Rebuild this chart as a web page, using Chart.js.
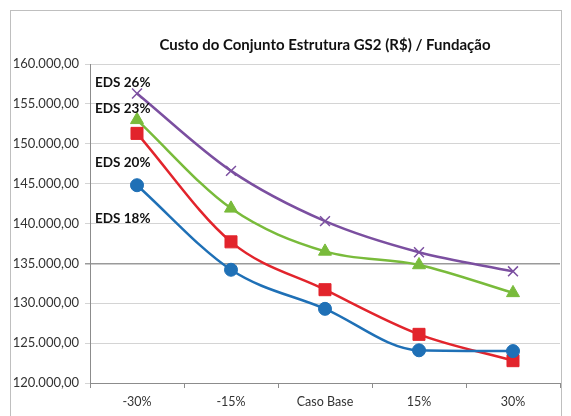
<!DOCTYPE html>
<html>
<head>
<meta charset="utf-8">
<script src="https://cdn.jsdelivr.net/npm/chart.js@4"></script>
<style>
  html, body { margin: 0; padding: 0; background: #fff; }
  #wrap { width: 571px; height: 416px; }
</style>
</head>
<body>
<div id="wrap"><canvas id="custoChart" width="571" height="416"></canvas></div>
<script>
// categories and values
const categories = ['-30%', '-15%', 'Caso Base', '15%', '30%'];
const eds18 = [144800, 134200, 129300, 124100, 124000];
const eds20 = [151300, 137700, 131700, 126100, 122800];
const eds23 = [153000, 141900, 136500, 134800, 131300];
const eds26 = [156300, 146600, 140300, 136400, 134000];
const seriesNames = ['EDS 18%', 'EDS 20%', 'EDS 23%', 'EDS 26%'];
// value (y) where each series name is written, near the first category
const nameLevels = [140550, 147570, 154460, 157720];

const colors = ['#1f70b6', '#e2242c', '#79bb3b', '#7b4fa0'];
const markers = ['circle', 'rect', 'triangle', 'crossRot'];
const markerSizes = [6.5, 8.5, 7.5, 7];

function fmt(v) {
    // 160000 -> 160.000,00
    const s = Math.round(v).toString().replace(/\B(?=(\d{3})+(?!\d))/g, '.');
    return s + ',00';
}

// white background + outer frame
const framePlugin = {
    id: 'frame',
    beforeDraw(chart) {
        const ctx = chart.ctx;
        ctx.save();
        ctx.fillStyle = '#fff';
        ctx.fillRect(0, 0, chart.width, chart.height);
        ctx.strokeStyle = '#bfbfbf';
        ctx.lineWidth = 1;
        ctx.strokeRect(10.5, 10.5, 551, 420);
        ctx.restore();
    }
};

// series names written inside the plot
const namesPlugin = {
    id: 'names',
    afterDatasetsDraw(chart) {
        const ctx = chart.ctx;
        const y = chart.scales.y;
        ctx.save();
        ctx.font = 'bold 13.5px Lato';
        ctx.fillStyle = '#111';
        ctx.textAlign = 'left';
        ctx.textBaseline = 'middle';
        seriesNames.forEach((n, i) => {
            ctx.fillText(n, chart.chartArea.left + 5, y.getPixelForValue(nameLevels[i]));
        });
        ctx.restore();
    }
};

const seriesData = [eds18, eds20, eds23, eds26];

new Chart(document.getElementById('custoChart'), {
    type: 'line',
    data: {
        labels: categories,
        datasets: seriesData.map((d, i) => ({
            label: seriesNames[i],
            data: d,
            borderColor: colors[i],
            backgroundColor: colors[i],
            borderWidth: 2.5,
            pointStyle: markers[i],
            pointRadius: markerSizes[i],
            pointBorderWidth: i === 3 ? 1.5 : 1,
            cubicInterpolationMode: 'monotone',
            fill: false
        }))
    },
    options: {
        responsive: false,
        animation: false,
        layout: { padding: { left: 0, right: 11, top: 0, bottom: 1 } },
        plugins: {
            legend: { display: false },
            tooltip: { enabled: false },
            title: {
                display: true,
                fullSize: false,
                text: 'Custo do Conjunto Estrutura GS2 (R$) / Fundação',
                color: '#111',
                font: { family: 'Lato', size: 15, weight: 'bold' },
                padding: { top: 36, bottom: 10 }
            }
        },
        scales: {
            x: {
                offset: true,
                grid: {
                    offset: true,
                    drawOnChartArea: false,
                    tickLength: 5,
                    color: '#8c8c8c'
                },
                border: { color: '#8c8c8c' },
                ticks: {
                    color: '#333',
                    font: { family: 'Lato', size: 12.5 },
                    padding: 6,
                    maxRotation: 0
                }
            },
            y: {
                min: 120000,
                max: 160000,
                afterFit(scale) { scale.width = 90; },
                grid: {
                    color: ctx => ctx.tick && ctx.tick.value === 135000 ? '#9a9a9a' : '#d4d4d4',
                    lineWidth: ctx => ctx.tick && ctx.tick.value === 135000 ? 1.5 : 1,
                    tickLength: 5
                },
                border: { color: '#8c8c8c' },
                ticks: {
                    stepSize: 5000,
                    color: '#333',
                    font: { family: 'Lato', size: 13 },
                    padding: 6,
                    callback: v => fmt(v)
                }
            }
        }
    },
    plugins: [framePlugin, namesPlugin]
});
</script>
</body>
</html>
